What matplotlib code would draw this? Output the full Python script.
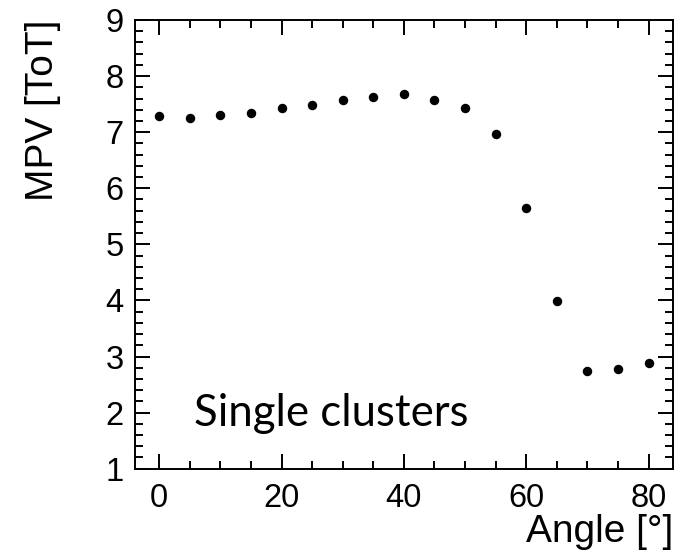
import matplotlib
matplotlib.use("Agg")
import matplotlib.pyplot as plt
from matplotlib.ticker import MultipleLocator

# angle in degrees, most probable value in ToT
angle = [0, 5, 10, 15, 20, 25, 30, 35, 40, 45, 50, 55, 60, 65, 70, 75, 80]
mpv = [7.29, 7.25, 7.31, 7.35, 7.43, 7.49, 7.58, 7.63, 7.68, 7.57, 7.44,
       6.96, 5.64, 3.99, 2.74, 2.78, 2.89]

plt.rcParams["font.family"] = ["Liberation Sans", "DejaVu Sans"]

fig = plt.figure(figsize=(6.76, 5.53), dpi=100)
ax = fig.add_axes([0.1993, 0.1525, 0.7963, 0.8113])

ax.plot(angle, mpv, "o", color="black", markersize=5.8, linestyle="none")

ax.set_xlim(-4, 84)
ax.set_ylim(1, 9)
ax.xaxis.set_major_locator(MultipleLocator(20))
ax.xaxis.set_minor_locator(MultipleLocator(5))
ax.yaxis.set_major_locator(MultipleLocator(1))
ax.yaxis.set_minor_locator(MultipleLocator(0.2))

for s in ax.spines.values():
    s.set_linewidth(1.4)
ax.tick_params(which="both", direction="in", top=True, right=True, width=1.4,
               labelsize=23.5)
ax.tick_params(which="major", length=11)
ax.tick_params(which="minor", length=6)
ax.tick_params(axis="x", which="major", pad=10)
ax.tick_params(axis="y", which="major", pad=8)

ax.set_xlabel("Angle [°]", fontsize=28, loc="right", labelpad=0)
ax.set_ylabel("MPV [ToT]", fontsize=28, loc="top", labelpad=32)

ax.text(331.7 / 676, 1 - 426 / 553, "Single clusters", transform=fig.transFigure,
        fontsize=31.5, family="Lato", ha="center", va="baseline")

fig.savefig("out.png", dpi=100)
